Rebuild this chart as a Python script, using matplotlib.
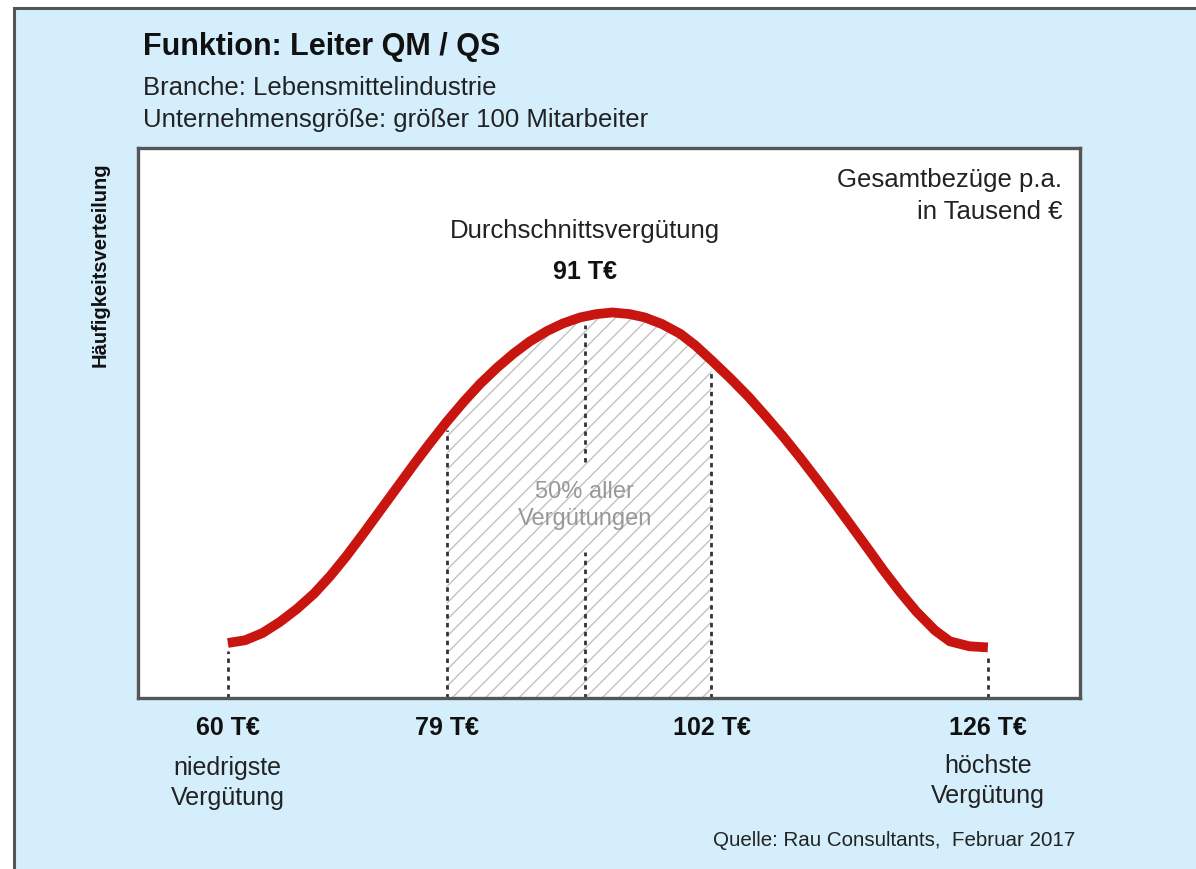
import numpy as np
import matplotlib.pyplot as plt
from matplotlib.patches import Rectangle
import matplotlib.transforms as mtransforms

plt.rcParams['font.family'] = ['Liberation Sans', 'DejaVu Sans']
plt.rcParams['hatch.linewidth'] = 1.0

gehalt = [60.0, 61.5, 63.0, 64.5, 66.0, 67.5, 68.9, 70.3, 71.7, 73.2,
          74.7, 76.2, 77.5, 79.0, 80.5, 81.9, 83.4, 84.8, 86.2, 87.7,
          89.1, 90.6, 92.0, 93.4, 94.9, 96.2, 97.7, 99.3, 100.6, 102.0,
          103.6, 105.2, 106.6, 108.2, 109.7, 111.2, 112.7, 114.0, 115.6,
          116.9, 118.4, 119.8, 121.4, 122.7, 124.4, 126.0]
haeufigkeit = [10.0, 10.5, 11.8, 13.8, 16.2, 19.0, 22.2, 25.8, 29.7, 34.0,
               38.3, 42.6, 46.2, 50.2, 53.9, 57.1, 60.1, 62.6, 64.8, 66.7,
               68.1, 69.2, 69.8, 70.1, 69.8, 69.2, 68.0, 66.2, 64.1, 61.4,
               58.2, 54.8, 51.5, 47.6, 43.7, 39.6, 35.4, 31.7, 27.1,
               23.3, 19.2, 15.7, 12.3, 10.3, 9.4, 9.2]

minimum = 60
quartil_unten = 79
mittelwert = 91
quartil_oben = 102
maximum = 126
marken = [minimum, quartil_unten, quartil_oben, maximum]
marken_text = ['60 T€', '79 T€', '102 T€', '126 T€']

W, H = 1196, 869
hellblau = '#d4eefb'
rot = '#c8150f'


def fx(px):
    return px / W


def fy(py):
    return 1 - py / H


fig = plt.figure(figsize=(W / 100, H / 100), dpi=100)
fig.patch.set_facecolor('white')

# hellblauer Hintergrund mit Rahmen links/oben
fig.patches.append(Rectangle((fx(14), -0.1), 1.2, fy(8) + 0.1,
                             transform=fig.transFigure, facecolor=hellblau,
                             edgecolor='#555555', linewidth=2.2, zorder=-5))

ax = fig.add_axes([fx(138), fy(698), fx(1080) - fx(138), fy(148) - fy(698)])
ax.set_facecolor('white')
for s in ax.spines.values():
    s.set_color('#555555')
    s.set_linewidth(2.4)
ax.set_xticks([])
ax.set_yticks([])
ax.set_xlim(52.2, 134.0)
ax.set_ylim(0, 100)

g = np.array(gehalt)
h = np.array(haeufigkeit)

# schraffierter Bereich: 50% aller Vergütungen
maske = (g >= quartil_unten) & (g <= quartil_oben)
ax.fill_between(g, 0, h, where=maske, facecolor='none', edgecolor='#c2c2c2',
                hatch='//', linewidth=0, zorder=1)

# gestrichelte Linien
strich = dict(color='#333333', linewidth=2.0, linestyle=(0, (1.6, 1.6)), zorder=2)
for m in marken:
    ax.vlines(m, 0, np.interp(m, g, h) - 1.5, **strich)
top91 = np.interp(mittelwert, g, h) - 1.5
ax.vlines(mittelwert, 43.0, top91, **strich)
ax.vlines(mittelwert, 0, 26.6, **strich)

ax.plot(g, h, color=rot, linewidth=7, solid_capstyle='butt',
        solid_joinstyle='round', zorder=4)

# Texte im Diagramm
ax.text(mittelwert, 84.9, 'Durchschnittsvergütung', ha='center', va='center',
        fontsize=18.5, color='#222222')
ax.text(mittelwert, 77.4, '91 T€', ha='center', va='center', fontsize=18,
        fontweight='bold', color='#111111')
ax.text(mittelwert, 35.0, '50% aller\nVergütungen', ha='center', va='center',
        fontsize=17, color='#999999', linespacing=1.3)
ax.text(0.981, 0.913, 'Gesamtbezüge p.a.\nin Tausend €', transform=ax.transAxes,
        ha='right', va='center', fontsize=18.5, color='#222222', linespacing=1.4)

# Beschriftung unter der Achse
tr = mtransforms.blended_transform_factory(ax.transData, fig.transFigure)
for m, t in zip(marken, marken_text):
    ax.text(m, fy(728), t, transform=tr, ha='center', va='center',
            fontsize=18, fontweight='bold', color='#111111')
ax.text(minimum, fy(783), 'niedrigste\nVergütung', transform=tr, ha='center',
        va='center', fontsize=18, color='#222222', linespacing=1.35)
ax.text(maximum, fy(781), 'höchste\nVergütung', transform=tr, ha='center',
        va='center', fontsize=18, color='#222222', linespacing=1.35)

# Titel und Untertitel
fig.text(fx(143), fy(47), 'Funktion: Leiter QM / QS', ha='left', va='center',
         fontsize=22, fontweight='bold', color='#111111')
fig.text(fx(143), fy(88), 'Branche: Lebensmittelindustrie', ha='left',
         va='center', fontsize=18.5, color='#222222')
fig.text(fx(143), fy(120), 'Unternehmensgröße: größer 100 Mitarbeiter',
         ha='left', va='center', fontsize=18.5, color='#222222')
fig.text(fx(100), fy(265), 'Häufigkeitsverteilung', rotation=90, ha='center',
         va='center', fontsize=14.5, fontweight='bold', color='#111111')
fig.text(fx(1075), fy(840), 'Quelle: Rau Consultants,  Februar 2017',
         ha='right', va='center', fontsize=14.8, color='#222222')

fig.savefig('out.png', dpi=100)
